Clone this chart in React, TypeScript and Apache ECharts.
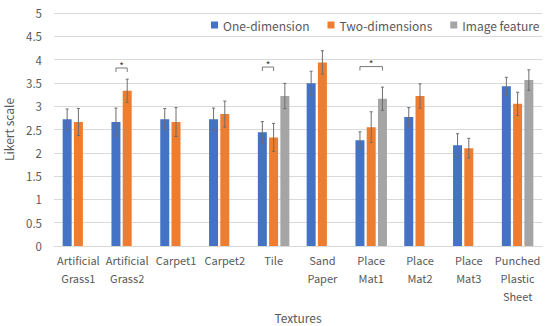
import React, { useEffect, useRef } from "react";
import * as echarts from "echarts";

const categories = [
  "Artificial\nGrass1",
  "Artificial\nGrass2",
  "Carpet1",
  "Carpet2",
  "Tile",
  "Sand\nPaper",
  "Place\nMat1",
  "Place\nMat2",
  "Place\nMat3",
  "Punched\nPlastic\nSheet",
];
const seriesNames = ["One-dimension", "Two-dimensions", "Image feature"];
const oneDim = [2.72, 2.66, 2.72, 2.72, 2.44, 3.49, 2.27, 2.77, 2.16, 3.43];
const oneDimErr = [0.22, 0.3, 0.23, 0.24, 0.23, 0.26, 0.18, 0.2, 0.25, 0.19];
const twoDim = [2.66, 3.33, 2.66, 2.83, 2.33, 3.94, 2.55, 3.22, 2.1, 3.05];
const twoDimErr = [0.29, 0.25, 0.31, 0.28, 0.3, 0.25, 0.33, 0.26, 0.21, 0.25];
const imageFeat = [null, null, null, null, 3.22, null, 3.16, null, null, 3.56];
const imageFeatErr = [null, null, null, null, 0.27, null, 0.25, null, null, 0.22];
const yTicks = [0, 0.5, 1, 1.5, 2, 2.5, 3, 3.5, 4, 4.5, 5];
// significance brackets: [category index, from series, to series, y value]
const brackets = [
  [1, 0, 1, 3.82],
  [4, 0, 1, 3.84],
  [6, 0, 2, 3.85],
];

const colors = ["#4472C4", "#ED7D31", "#A5A5A5"];
const textColor = "#595959";
const font = "'Noto Sans CJK JP', 'Noto Sans', sans-serif";
const BAR_W = 9;
const STEP = 11.25;

export default function App() {
  const ref = useRef<HTMLDivElement>(null);
  useEffect(() => {
    if (!ref.current) return;
    const chart = echarts.init(ref.current, null, { renderer: "svg" });
    const valueSets = [oneDim, twoDim, imageFeat];
    const errSets = [oneDimErr, twoDimErr, imageFeatErr];
    const errData: any[] = [];
    valueSets.forEach((vals, s) => {
      vals.forEach((v, i) => {
        const e = errSets[s][i];
        if (v != null && e != null) errData.push([i, s, v - e, v + e]);
      });
    });
    const option: any = {
      animation: false,
      textStyle: { fontFamily: font },
      grid: { left: 54, right: 8, top: 13, bottom: 80, outerBoundsMode: "none", containLabel: false },
      legend: {
        data: seriesNames,
        left: 211,
        top: 19,
        width: 400,
        padding: 0,
        icon: "rect",
        itemWidth: 7,
        itemHeight: 7,
        itemGap: 18,
        textStyle: { color: textColor, fontSize: 12, fontFamily: font },
      },
      xAxis: {
        type: "category",
        data: categories,
        name: "Textures",
        nameLocation: "middle",
        nameGap: 65,
        nameTextStyle: { color: textColor, fontSize: 12, fontFamily: font },
        axisLine: { lineStyle: { color: "#D9D9D9" } },
        axisTick: { show: false },
        axisLabel: {
          color: textColor,
          fontSize: 11,
          lineHeight: 18,
          margin: 5,
          interval: 0,
          fontFamily: font,
        },
      },
      yAxis: {
        type: "value",
        min: 0,
        max: 5,
        interval: 0.5,
        name: "Likert scale",
        nameLocation: "middle",
        nameGap: 40,
        nameTextStyle: { color: textColor, fontSize: 12, fontFamily: font },
        axisLine: { show: false },
        axisTick: { show: false },
        splitLine: { lineStyle: { color: "#D9D9D9" } },
        axisLabel: {
          color: textColor,
          fontSize: 11.5,
          margin: 12,
          fontFamily: font,
          formatter: (v: number) => (yTicks.includes(v) ? String(v) : ""),
        },
      },
      series: [
        ...valueSets.map((vals, s) => ({
          type: "bar",
          name: seriesNames[s],
          data: vals,
          barWidth: BAR_W,
          barGap: "25%",
          itemStyle: { color: colors[s] },
        })),
        {
          type: "custom",
          name: "errors",
          z: 5,
          data: errData,
          encode: { x: 0, y: [2, 3] },
          renderItem: (params: any, api: any) => {
            const c = api.value(0);
            const s = api.value(1);
            const lo = api.coord([c, api.value(2)]);
            const hi = api.coord([c, api.value(3)]);
            const x = lo[0] + (s - 1) * STEP;
            const st = { stroke: "#6E6E6E", lineWidth: 1 };
            return {
              type: "group",
              children: [
                { type: "line", shape: { x1: x, y1: lo[1], x2: x, y2: hi[1] }, style: st },
                { type: "line", shape: { x1: x - 1.5, y1: lo[1], x2: x + 1.5, y2: lo[1] }, style: st },
                { type: "line", shape: { x1: x - 1.5, y1: hi[1], x2: x + 1.5, y2: hi[1] }, style: st },
              ],
            };
          },
        },
        {
          type: "custom",
          name: "brackets",
          z: 5,
          data: brackets,
          encode: { x: 0, y: 3 },
          renderItem: (params: any, api: any) => {
            const c = api.value(0);
            const a = api.value(1);
            const b = api.value(2);
            const p = api.coord([c, api.value(3)]);
            const x1 = p[0] + (a - 1) * STEP;
            const x2 = p[0] + (b - 1) * STEP;
            const y = p[1];
            const st = { stroke: "#595959", lineWidth: 0.8, fill: "none" };
            return {
              type: "group",
              children: [
                {
                  type: "polyline",
                  shape: { points: [[x1, y + 4], [x1, y], [x2, y], [x2, y + 4]] },
                  style: st,
                },
                {
                  type: "text",
                  x: (x1 + x2) / 2,
                  y: y + 2,
                  style: {
                    text: "*",
                    fill: "#404040",
                    fontSize: 10,
                    fontFamily: font,
                    align: "center",
                    verticalAlign: "bottom",
                  },
                },
              ],
            };
          },
        },
      ],
    };
    chart.setOption(option);
    return () => chart.dispose();
  }, []);
  return (
    <div
      ref={ref}
      style={{ position: "absolute", left: 0, top: 0, width: 550, height: 326 }}
    />
  );
}
